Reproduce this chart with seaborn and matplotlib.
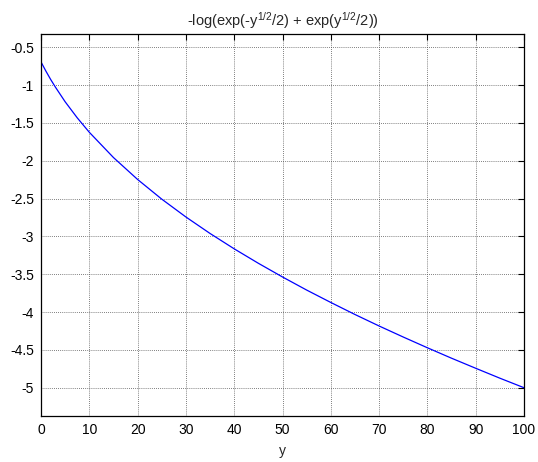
import matplotlib
matplotlib.use("Agg")
import matplotlib.pyplot as plt
import seaborn as sns
import pandas as pd

# Sampled curve values
y_vals = [0, 1, 2, 3, 5, 7.5, 10, 15, 20, 25, 30, 35, 40, 45, 50,
          55, 60, 65, 70, 75, 80, 85, 90, 95, 100]
f_vals = [-0.693, -0.813, -0.925, -1.028, -1.220, -1.432, -1.623, -1.957,
          -2.247, -2.507, -2.743, -2.961, -3.164, -3.355, -3.536, -3.709,
          -3.873, -4.032, -4.184, -4.330, -4.472, -4.610, -4.743, -4.874,
          -5.000]
x_ticks = [0, 10, 20, 30, 40, 50, 60, 70, 80, 90, 100]
y_ticks = [-5, -4.5, -4, -3.5, -3, -2.5, -2, -1.5, -1, -0.5]
y_tick_labels = ["-5", "-4.5", "-4", "-3.5", "-3", "-2.5", "-2", "-1.5", "-1", "-0.5"]

sns.set_style("white")
plt.rcParams["font.family"] = ["Liberation Sans", "DejaVu Sans"]
plt.rcParams["mathtext.default"] = "regular"

df = pd.DataFrame({"y": y_vals, "f": f_vals})

fig = plt.figure(figsize=(5.38, 4.62), dpi=100)
ax = fig.add_axes([41 / 538, 1 - 415.7 / 462, (524 - 41) / 538, (415.7 - 34) / 462])

sns.lineplot(data=df, x="y", y="f", ax=ax, color="#0000ff", linewidth=0.9)

ax.set_xlim(0, 100)
ax.set_ylim(-5.37, -0.324)
ax.set_xticks(x_ticks)
ax.set_xticklabels([str(t) for t in x_ticks])
ax.set_yticks(y_ticks)
ax.set_yticklabels(y_tick_labels)

ax.grid(True, color="#555555", linestyle=(0, (1, 1.5)), linewidth=0.6)
ax.tick_params(axis="both", direction="in", length=4, width=0.8,
               top=True, right=True, labelsize=10, colors="black", pad=5)
for s in ax.spines.values():
    s.set_color("black")
    s.set_linewidth(0.9)

ax.set_xlabel("y", fontsize=10, labelpad=5)
ax.set_ylabel("")
ax.set_title(r"-log(exp(-y$^{1/2}$/2) + exp(y$^{1/2}$/2))", fontsize=10.5, pad=6)

fig.savefig("out.png", dpi=100)
